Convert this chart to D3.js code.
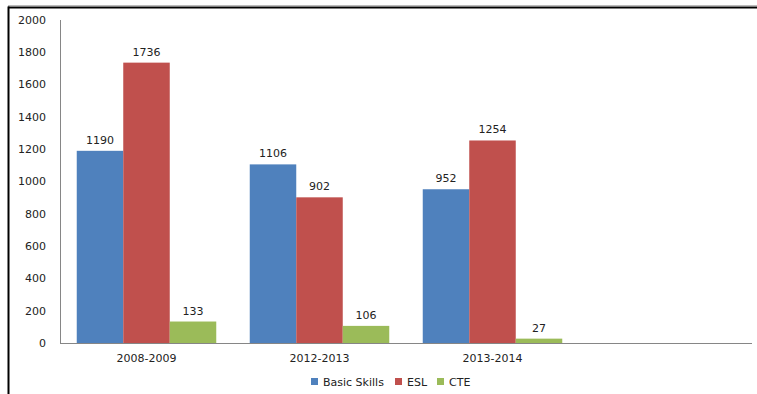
<!DOCTYPE html>
<html>
<head>
<meta charset="utf-8">
<script src="https://cdn.jsdelivr.net/npm/d3@7"></script>
<style>
  html, body { margin: 0; padding: 0; background: #fff; }
  svg { display: block; }
  text { font-family: "DejaVu Sans", Verdana, sans-serif; fill: #222; }
</style>
</head>
<body>
<script>
// Enrollment by program and year
const categories = ["2008-2009", "2012-2013", "2013-2014", ""];
const seriesNames = ["Basic Skills", "ESL", "CTE"];
const basicSkills = [1190, 1106, 952, null];
const esl = [1736, 902, 1254, null];
const cte = [133, 106, 27, null];
const yTicks = [0, 200, 400, 600, 800, 1000, 1200, 1400, 1600, 1800, 2000];
const colors = ["#4F81BD", "#C0504D", "#9BBB59"];

const W = 757, H = 394;
const plot = { left: 60, right: 752, top: 20, bottom: 343 };

const svg = d3.select("body").append("svg").attr("width", W).attr("height", H);

// frame
svg.append("line").attr("x1", 8).attr("x2", 757).attr("y1", 7).attr("y2", 7)
  .attr("stroke", "#bbb").attr("stroke-width", 1).attr("transform", "translate(0,-1.5)");
svg.append("line").attr("x1", 8).attr("x2", 757).attr("y1", 7.5).attr("y2", 7.5)
  .attr("stroke", "#000").attr("stroke-width", 2);
svg.append("line").attr("x1", 8.5).attr("x2", 8.5).attr("y1", 6.5).attr("y2", H)
  .attr("stroke", "#000").attr("stroke-width", 2);

const x = d3.scaleBand().domain(categories.map((c, i) => i)).range([plot.left, plot.right]);
const y = d3.scaleLinear().domain([0, 2000]).range([plot.bottom, plot.top]);

const groupPad = 0.0968; // gap on each side of a group, as a fraction of the band
const inner = d3.scaleBand().domain(seriesNames)
  .range([x.bandwidth() * groupPad, x.bandwidth() * (1 - groupPad)]);

const series = [basicSkills, esl, cte];

// y axis labels
svg.append("g").selectAll("text").data(yTicks).join("text")
  .attr("x", 46).attr("y", d => y(d)).attr("dy", "0.35em")
  .attr("text-anchor", "end").attr("font-size", 11).text(d => d);

// bars
series.forEach((vals, si) => {
  const g = svg.append("g");
  const data = vals.map((v, i) => ({ v, i })).filter(d => d.v != null);
  g.selectAll("rect").data(data).join("rect")
    .attr("x", d => x(d.i) + inner(seriesNames[si]))
    .attr("y", d => y(d.v))
    .attr("width", inner.bandwidth())
    .attr("height", d => y(0) - y(d.v))
    .attr("fill", colors[si]);
  g.selectAll("text").data(data).join("text")
    .attr("x", d => x(d.i) + inner(seriesNames[si]) + inner.bandwidth() / 2)
    .attr("y", d => y(d.v) - 7)
    .attr("text-anchor", "middle").attr("font-size", 11).text(d => d.v);
});

// axis lines
svg.append("line").attr("x1", plot.left + 0.5).attr("x2", plot.left + 0.5)
  .attr("y1", plot.top).attr("y2", plot.bottom).attr("stroke", "#868686");
svg.append("line").attr("x1", plot.left).attr("x2", plot.right)
  .attr("y1", plot.bottom + 0.5).attr("y2", plot.bottom + 0.5).attr("stroke", "#868686");

// category labels
svg.append("g").selectAll("text").data(categories.map((c, i) => ({ c, i })).filter(d => d.c))
  .join("text")
  .attr("x", d => x(d.i) + x.bandwidth() / 2).attr("y", 362)
  .attr("text-anchor", "middle").attr("font-size", 11).text(d => d.c);

// legend
const legendX = [311, 395, 437];
const lg = svg.append("g");
seriesNames.forEach((name, i) => {
  lg.append("rect").attr("x", legendX[i]).attr("y", 378).attr("width", 7).attr("height", 7)
    .attr("fill", colors[i]);
  lg.append("text").attr("x", legendX[i] + 12).attr("y", 385.5)
    .attr("font-size", 11).text(name);
});
</script>
</body>
</html>
